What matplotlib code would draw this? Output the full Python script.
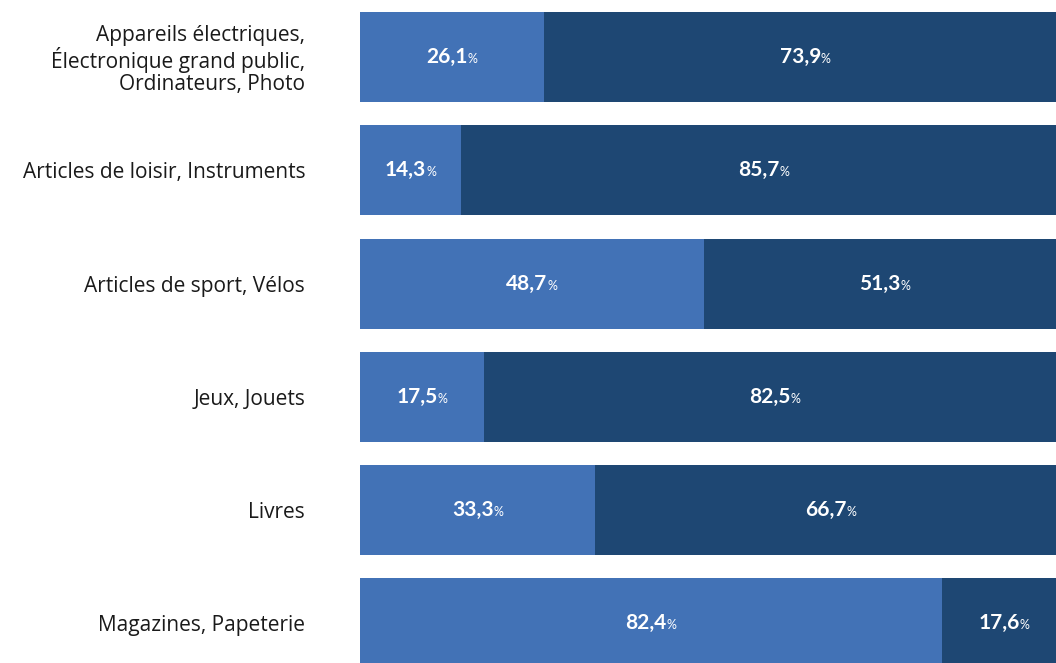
import matplotlib
matplotlib.use("Agg")
import matplotlib.pyplot as plt
from matplotlib.offsetbox import TextArea, HPacker, AnnotationBbox

plt.rcParams["font.family"] = ["Open Sans", "DejaVu Sans"]

categories = [
    "Appareils électriques,\nÉlectronique grand public,\nOrdinateurs, Photo",
    "Articles de loisir, Instruments",
    "Articles de sport, Vélos",
    "Jeux, Jouets",
    "Livres",
    "Magazines, Papeterie",
]
share_a = [26.1, 14.3, 48.7, 17.5, 33.3, 82.4]
share_b = [73.9, 85.7, 51.3, 82.5, 66.7, 17.6]

color_a = "#4272b6"
color_b = "#1e4773"

W, H = 1056, 663
fig = plt.figure(figsize=(W / 100, H / 100), dpi=100)
ax = fig.add_axes([360 / W, 0, 706 / W, 1])

y = list(range(len(categories)))
ax.barh(y, share_a, height=0.795, color=color_a, linewidth=0)
ax.barh(y, share_b, left=share_a, height=0.795, color=color_b, linewidth=0)

ax.set_xlim(0, 100)
ax.set_ylim(5.349, -0.503)
ax.set_yticks(y)
ax.set_yticklabels(categories, fontsize=15, color="#1a1a1a", linespacing=1.05)
ax.tick_params(axis="y", length=0, pad=39.5)
ax.set_xticks([])
for s in ax.spines.values():
    s.set_visible(False)


def value_label(x, yy, v):
    num = TextArea(f"{v:.1f}".replace(".", ","),
                   textprops=dict(color="white", fontsize=15, fontweight="bold",
                                  family=["Lato", "DejaVu Sans"]))
    pct = TextArea("%", textprops=dict(color="white", fontsize=9,
                                       family=["Lato", "DejaVu Sans"]))
    box = HPacker(children=[num, pct], align="baseline", pad=0, sep=0)
    ab = AnnotationBbox(box, (x, yy), frameon=False, box_alignment=(0.5, 0.5),
                        xycoords="data", pad=0)
    ax.add_artist(ab)


for i, (a, b) in enumerate(zip(share_a, share_b)):
    value_label(a / 2, i, a)
    value_label(a + b / 2, i, b)

fig.savefig("out.png", dpi=100)
